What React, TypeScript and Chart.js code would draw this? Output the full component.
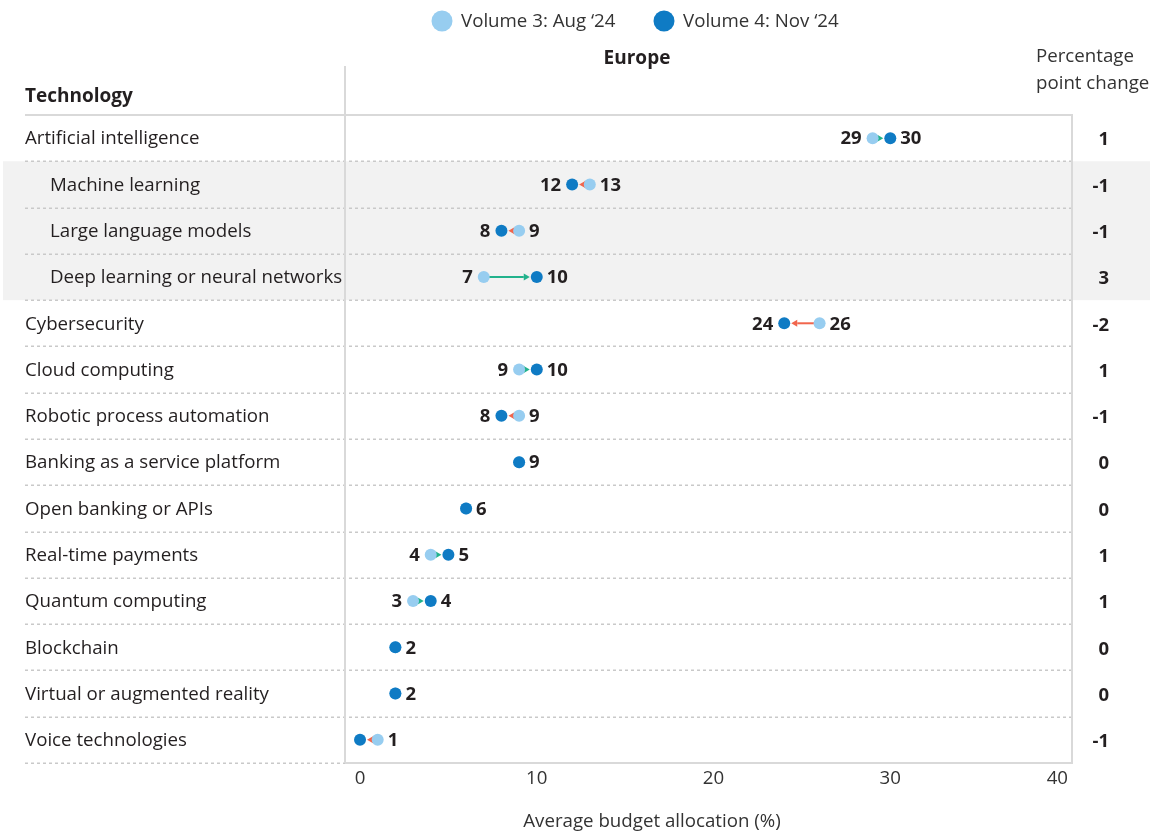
import React, { useEffect, useRef } from "react";
import { Chart, registerables } from "chart.js";

Chart.register(...registerables);

const categories = [
  "Artificial intelligence",
  "Machine learning",
  "Large language models",
  "Deep learning or neural networks",
  "Cybersecurity",
  "Cloud computing",
  "Robotic process automation",
  "Banking as a service platform",
  "Open banking or APIs",
  "Real-time payments",
  "Quantum computing",
  "Blockchain",
  "Virtual or augmented reality",
  "Voice technologies",
];
const isSubItem = [false, true, true, true, false, false, false, false, false, false, false, false, false, false];
const aug24 = [29, 13, 9, 7, 26, 9, 9, 9, 6, 4, 3, 2, 2, 1];
const nov24 = [30, 12, 8, 10, 24, 10, 8, 9, 6, 5, 4, 2, 2, 0];
const ppChange = [1, -1, -1, 3, -2, 1, -1, 0, 0, 1, 1, 0, 0, -1];
const xTickValues = [0, 10, 20, 30, 40];
const legendLabels = ["Volume 3: Aug \u201824", "Volume 4: Nov \u201824"];
const panelTitle = "Europe";
const rowHeader = "Technology";
const changeHeader = ["Percentage", "point change"];
const xTitle = "Average budget allocation (%)";

const W = 1151;
const H = 833;
const FONT = "'Open Sans', Lato, sans-serif";
const REG = 18.7;
const LIGHT = "#97cdf0";
const DARK = "#0f7bc4";
const UP = "#22b28c";
const DOWN = "#f1654c";
const RULE = "#d9d9d9";
const DOT_RULE = "#c9c9c9";
const TEXT = "#231f20";
const R = 6;

const overlay = {
  id: "overlay",
  beforeDatasetsDraw(chart: any) {
    const { ctx, chartArea: a, scales } = chart;
    const x = scales.x;
    const y = scales.y;
    ctx.save();
    // shaded band for sub items
    ctx.fillStyle = "#f2f2f2";
    let i = 0;
    while (i < categories.length) {
      if (isSubItem[i]) {
        let j = i;
        while (j + 1 < categories.length && isSubItem[j + 1]) j++;
        const t = y.getPixelForValue(i - 0.5);
        const b = y.getPixelForValue(j + 0.5);
        ctx.fillRect(3, t, W - 4, b - t);
        i = j + 1;
      } else i++;
    }
    // dotted separators
    ctx.strokeStyle = DOT_RULE;
    ctx.lineWidth = 1.5;
    ctx.setLineDash([3, 3]);
    for (let k = 0; k < categories.length; k++) {
      const yy = Math.round(y.getPixelForValue(k + 0.5)) + 0.25;
      const right = k === categories.length - 1 ? a.left : a.right;
      ctx.beginPath();
      ctx.moveTo(25, yy);
      ctx.lineTo(right, yy);
      ctx.stroke();
    }
    ctx.setLineDash([]);
    // solid rules
    ctx.strokeStyle = RULE;
    ctx.lineWidth = 2;
    ctx.beginPath();
    ctx.moveTo(25, a.top);
    ctx.lineTo(a.right, a.top);
    ctx.lineTo(a.right, a.bottom);
    ctx.lineTo(a.left, a.bottom);
    ctx.moveTo(a.left, 66);
    ctx.lineTo(a.left, a.bottom);
    ctx.stroke();

    // arrows
    for (let k = 0; k < categories.length; k++) {
      const v1 = aug24[k];
      const v2 = nov24[k];
      if (v1 === v2) continue;
      const x1 = x.getPixelForValue(v1);
      const x2 = x.getPixelForValue(v2);
      const yy = y.getPixelForValue(k);
      const dir = x2 > x1 ? 1 : -1;
      const col = dir > 0 ? UP : DOWN;
      const tip = x2 - dir * (R + 1);
      const headLen = 6;
      ctx.strokeStyle = col;
      ctx.fillStyle = col;
      ctx.lineWidth = 2;
      ctx.beginPath();
      ctx.moveTo(x1, yy);
      ctx.lineTo(tip - dir * headLen, yy);
      ctx.stroke();
      ctx.beginPath();
      ctx.moveTo(tip, yy);
      ctx.lineTo(tip - dir * headLen, yy - 3.5);
      ctx.lineTo(tip - dir * headLen, yy + 3.5);
      ctx.closePath();
      ctx.fill();
    }
    ctx.restore();
  },
  afterDatasetsDraw(chart: any) {
    const { ctx, chartArea: a, scales } = chart;
    const x = scales.x;
    const y = scales.y;
    ctx.save();
    ctx.textBaseline = "middle";

    // legend
    const legendX = [442, 664];
    const legendCol = [LIGHT, DARK];
    ctx.font = `${REG}px ${FONT}`;
    ctx.textAlign = "left";
    for (let k = 0; k < 2; k++) {
      ctx.fillStyle = legendCol[k];
      ctx.beginPath();
      ctx.arc(legendX[k], 21, 10.5, 0, Math.PI * 2);
      ctx.fill();
      ctx.fillStyle = "#333333";
      ctx.fillText(legendLabels[k], legendX[k] + 19, 22);
    }

    // headers
    ctx.fillStyle = TEXT;
    ctx.font = `bold 19px ${FONT}`;
    ctx.textAlign = "center";
    ctx.fillText(panelTitle, 637, 59);
    ctx.textAlign = "left";
    ctx.fillText(rowHeader, 25, 97);
    ctx.font = `${REG}px ${FONT}`;
    ctx.fillStyle = "#333333";
    ctx.fillText(changeHeader[0], 1036, 57);
    ctx.fillText(changeHeader[1], 1036, 84);

    // row labels, value labels, change column
    for (let k = 0; k < categories.length; k++) {
      const yy = y.getPixelForValue(k);
      ctx.font = `${REG}px ${FONT}`;
      ctx.fillStyle = TEXT;
      ctx.textAlign = "left";
      ctx.fillText(categories[k], isSubItem[k] ? 50 : 25, yy + 1);

      ctx.font = `bold 18.5px ${FONT}`;
      const v1 = aug24[k];
      const v2 = nov24[k];
      const lo = Math.min(v1, v2);
      const hi = Math.max(v1, v2);
      if (lo !== hi && lo !== 0) {
        ctx.textAlign = "right";
        ctx.fillText(String(lo), x.getPixelForValue(lo) - 11, yy + 1);
      }
      if (hi !== 0) {
        ctx.textAlign = "left";
        ctx.fillText(String(hi), x.getPixelForValue(hi) + 10, yy + 1);
      }
      ctx.textAlign = "right";
      ctx.fillText(String(ppChange[k]), 1109, yy + 2);
    }

    // x ticks
    ctx.font = `${REG}px ${FONT}`;
    ctx.fillStyle = "#333333";
    ctx.textAlign = "center";
    for (const t of x.ticks) {
      let px = x.getPixelForValue(t.value);
      const label = String(t.value);
      const w = ctx.measureText(label).width;
      if (px + w / 2 > a.right - 4) px = a.right - 4 - w / 2;
      ctx.fillText(label, px, 779);
    }
    ctx.fillText(xTitle, 652, 822);
    ctx.restore();
  },
};

export default function App() {
  const ref = useRef<HTMLCanvasElement | null>(null);
  useEffect(() => {
    if (!ref.current) return;
    const chart = new Chart(ref.current, {
      type: "scatter",
      data: {
        datasets: [
          {
            label: legendLabels[1],
            data: nov24.map((v, i) => ({ x: v, y: i })),
            pointRadius: R,
            pointHoverRadius: R,
            pointBackgroundColor: DARK,
            pointBorderWidth: 0,
            order: 0,
          },
          {
            label: legendLabels[0],
            data: aug24.map((v, i) => ({ x: v, y: i })),
            pointRadius: R,
            pointHoverRadius: R,
            pointBackgroundColor: LIGHT,
            pointBorderWidth: 0,
            order: 1,
          },
        ],
      },
      options: {
        responsive: false,
        animation: false,
        devicePixelRatio: 1,
        layout: { padding: { left: 345, right: W - 1072, top: 115, bottom: H - 763 } },
        plugins: { legend: { display: false }, tooltip: { enabled: false } },
        scales: {
          x: {
            type: "linear",
            min: -0.85,
            max: 40.28,
            display: false,
            afterBuildTicks: (s: any) => {
              s.ticks = xTickValues.map((v) => ({ value: v }));
            },
          },
          y: {
            type: "linear",
            min: -0.5,
            max: categories.length - 0.5,
            reverse: true,
            display: false,
          },
        },
      },
      plugins: [overlay],
    });
    return () => chart.destroy();
  }, []);
  return (
    <div style={{ position: "absolute", left: 0, top: 0, width: W, height: H, background: "#fff" }}>
      <canvas ref={ref} width={W} height={H} style={{ display: "block" }} />
    </div>
  );
}
